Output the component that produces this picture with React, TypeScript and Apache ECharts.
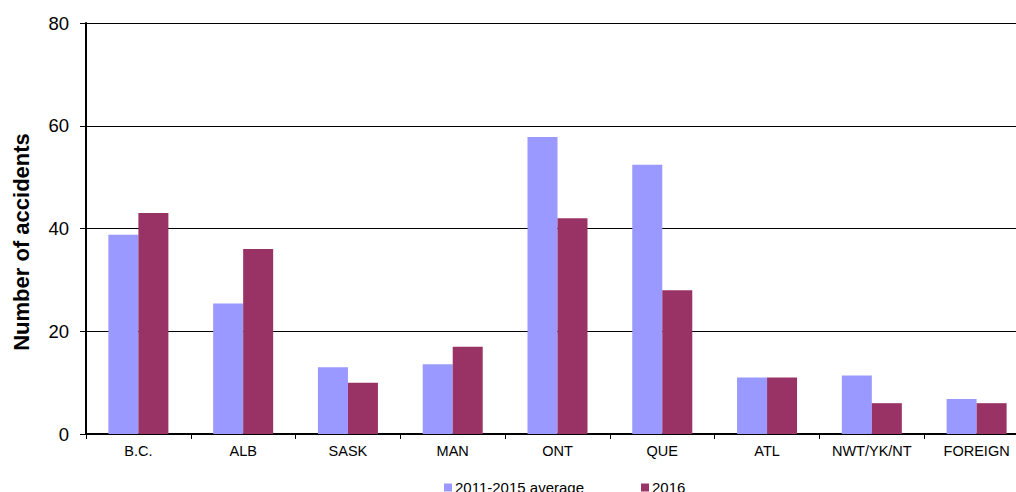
import React, { useEffect, useRef } from "react";
import * as echarts from "echarts";

const categories = ["B.C.", "ALB", "SASK", "MAN", "ONT", "QUE", "ATL", "NWT/YK/NT", "FOREIGN"];
const avg2011to2015 = [38.8, 25.4, 13.0, 13.6, 57.8, 52.4, 11.0, 11.4, 6.8];
const values2016 = [43, 36, 10, 17, 42, 28, 11, 6, 6];
const yTicks = [0, 20, 40, 60, 80];
const yTitle = "Number of accidents";

export default function App() {
  const ref = useRef<HTMLDivElement>(null);
  useEffect(() => {
    if (!ref.current) return;
    const chart = echarts.init(ref.current, null, { renderer: "svg" });
    const font = "'Liberation Sans', Arial, sans-serif";
    chart.setOption({
      animation: false,
      backgroundColor: "#ffffff",
      textStyle: { fontFamily: font },
      grid: { left: 86, top: 23, width: 943, height: 411, containLabel: false },
      legend: {
        data: ["2011-2015 average", "2016"],
        left: 439,
        top: 475,
        itemWidth: 8,
        itemHeight: 8,
        itemGap: 57,
        icon: "rect",
        textStyle: { fontFamily: font, fontSize: 15, color: "#000", padding: [0, 0, 0, -2] },
      },
      graphic: [
        {
          type: "text",
          x: 21,
          y: 242,
          rotation: Math.PI / 2,
          style: {
            text: yTitle,
            fontSize: 22,
            fontWeight: "bold",
            fontFamily: font,
            fill: "#000",
            textAlign: "center",
            textVerticalAlign: "middle",
          },
        },
      ],
      xAxis: {
        type: "category",
        data: categories,
        axisLine: { lineStyle: { color: "#000", width: 2 } },
        axisTick: { show: true, alignWithLabel: false, length: 5, lineStyle: { color: "#000" } },
        axisLabel: { color: "#000", fontSize: 14.5, margin: 9, fontFamily: font, interval: 0 },
      },
      yAxis: {
        type: "value",
        min: yTicks[0],
        max: yTicks[yTicks.length - 1],
        interval: 20,
        axisLine: { show: true, lineStyle: { color: "#000", width: 2 } },
        axisTick: { show: true, length: 6, lineStyle: { color: "#000" } },
        axisLabel: { color: "#000", fontSize: 18.5, margin: 17, fontFamily: font },
        splitLine: { show: true, lineStyle: { color: "#000", width: 1 } },
      },
      series: [
        {
          name: "2011-2015 average",
          type: "bar",
          data: avg2011to2015,
          barWidth: 30,
          barGap: "0%",
          itemStyle: { color: "#9999ff" },
        },
        {
          name: "2016",
          type: "bar",
          data: values2016,
          barWidth: 30,
          barGap: "0%",
          itemStyle: { color: "#993366" },
        },
      ],
    });
    return () => chart.dispose();
  }, []);
  return (
    <div
      style={{ position: "fixed", left: 0, top: 0, width: 1016, height: 492, overflow: "hidden", background: "#fff" }}
    >
      <div ref={ref} style={{ width: 1040, height: 492 }} />
    </div>
  );
}
